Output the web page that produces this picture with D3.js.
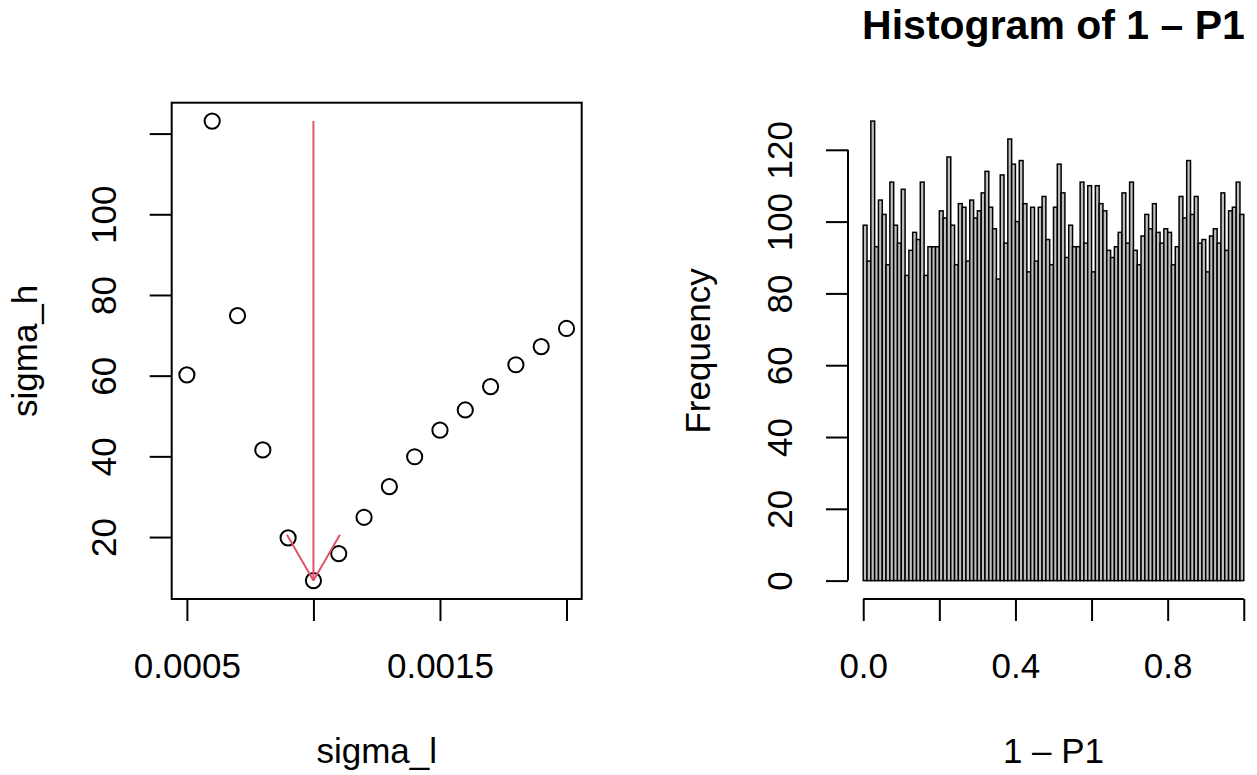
<!DOCTYPE html>
<html>
<head>
<meta charset="utf-8">
<script src="https://cdn.jsdelivr.net/npm/d3@7"></script>
<style>
  html, body { margin: 0; padding: 0; background: #fff; }
  svg { display: block; font-family: "Liberation Sans", Arial, sans-serif; }
</style>
</head>
<body>
<svg id="chart" width="1257" height="775"></svg>
<script>
// left panel: sigma_h against sigma_l
var sigmaL = [0.0005, 0.0006, 0.0007, 0.0008, 0.0009, 0.0010, 0.0011, 0.0012,
              0.0013, 0.0014, 0.0015, 0.0016, 0.0017, 0.0018, 0.0019, 0.0020];
var sigmaH = [60.2, 123.1, 74.9, 41.6, 19.8, 9.2, 15.9, 24.9,
              32.5, 39.9, 46.5, 51.5, 57.3, 62.7, 67.2, 71.7];
var xTicksL = [0.0005, 0.0010, 0.0015, 0.0020];
var xLabelsL = ['0.0005', '', '0.0015', ''];
var yTicksL = [20, 40, 60, 80, 100, 120];
var yLabelsL = ['20', '40', '60', '80', '100', ''];

// right panel: histogram of 1 - P1, 100 bins of width 0.01 on [0, 1]
var histCounts = [
    99, 89, 128, 93, 106, 102, 88, 111, 99, 94,
    109, 85, 92, 97, 95, 111, 85, 93, 93, 93,
    103, 101, 118, 99, 88, 105, 104, 89, 106, 101,
    103, 108, 114, 104, 98, 84, 113, 94, 123, 116,
    100, 117, 105, 86, 104, 89, 104, 107, 95, 88,
    104, 116, 108, 90, 99, 93, 93, 111, 94, 110,
    86, 110, 105, 103, 92, 90, 93, 97, 108, 94,
    111, 92, 88, 96, 102, 98, 105, 97, 94, 98,
    97, 88, 93, 107, 101, 117, 102, 107, 94, 95,
    86, 96, 98, 94, 108, 92, 103, 104, 111, 102
];
var histRange = [0, 1];
var xTicksH = [0, 0.2, 0.4, 0.6, 0.8, 1.0];
var xLabelsH = ['0.0', '', '0.4', '', '0.8', ''];
var yTicksH = [0, 20, 40, 60, 80, 100, 120];

var svg = d3.select('#chart');
var FONT = 35;
var LW = 2;

// R style 4% padding of a range
function pad(ext) {
    var d = (ext[1] - ext[0]) * 0.04;
    return [ext[0] - d, ext[1] + d];
}

function styleAxis(g) {
    g.attr('font-size', FONT).attr('font-family', null);
    g.select('.domain').remove();
    g.selectAll('.tick line').attr('stroke-width', LW);
}

function bottomAxis(g, scale, ticks, labels) {
    g.call(d3.axisBottom(scale).tickValues(ticks).tickSize(22)
            .tickFormat(function(d, i) { return labels[i]; }));
    styleAxis(g);
    g.selectAll('.tick text').attr('y', 79).attr('dy', null);
}

function leftAxis(g, scale, ticks, labels) {
    g.call(d3.axisLeft(scale).tickValues(ticks).tickSize(22)
            .tickFormat(function(d, i) { return labels[i]; }));
    styleAxis(g);
    g.selectAll('.tick text')
        .attr('x', null).attr('dy', null)
        .attr('text-anchor', 'middle')
        .attr('transform', 'translate(-56,0) rotate(-90)');
}

/* ---------- left panel ---------- */
var L = {x0: 171.7, x1: 581.7, y0: 102.7, y1: 599};
var xL = d3.scaleLinear().domain(pad(d3.extent(sigmaL))).range([L.x0, L.x1]);
var yL = d3.scaleLinear().domain(pad(d3.extent(sigmaH))).range([L.y1, L.y0]);

svg.append('rect')
    .attr('x', L.x0).attr('y', L.y0)
    .attr('width', L.x1 - L.x0).attr('height', L.y1 - L.y0)
    .attr('fill', 'none').attr('stroke', '#000').attr('stroke-width', LW);

svg.append('g').attr('transform', 'translate(0,' + L.y1 + ')')
    .call(bottomAxis, xL, xTicksL, xLabelsL);
svg.append('g').attr('transform', 'translate(' + L.x0 + ',0)')
    .call(leftAxis, yL, yTicksL, yLabelsL);

svg.selectAll('.pt')
    .data(sigmaL)
  .enter().append('circle')
    .attr('class', 'pt')
    .attr('cx', function(d) { return xL(d); })
    .attr('cy', function(d, i) { return yL(sigmaH[i]); })
    .attr('r', 7.6)
    .attr('fill', 'none').attr('stroke', '#000').attr('stroke-width', LW);

// arrow from the largest sigma_h down to the minimum
var iMin = d3.minIndex(sigmaH);
var ax = xL(sigmaL[iMin]);
var ayTop = yL(d3.max(sigmaH));
var ayTip = yL(sigmaH[iMin]);
var headLen = 53, headAng = Math.PI / 6;
var arrow = svg.append('g')
    .attr('stroke', '#DF536B').attr('stroke-width', LW).attr('fill', 'none');
arrow.append('line')
    .attr('x1', ax).attr('y1', ayTop).attr('x2', ax).attr('y2', ayTip);
[-1, 1].forEach(function(s) {
    arrow.append('line')
        .attr('x1', ax).attr('y1', ayTip)
        .attr('x2', ax + s * headLen * Math.sin(headAng))
        .attr('y2', ayTip - headLen * Math.cos(headAng));
});

svg.append('text')
    .attr('x', (L.x0 + L.x1) / 2).attr('y', 763)
    .attr('text-anchor', 'middle').attr('font-size', FONT)
    .text('sigma_l');
svg.append('text')
    .attr('transform', 'translate(37,' + (L.y0 + L.y1) / 2 + ') rotate(-90)')
    .attr('text-anchor', 'middle').attr('font-size', FONT)
    .text('sigma_h');

/* ---------- right panel ---------- */
var R = {x0: 848, x1: 1259, y0: 102.7, y1: 599};
var nBins = histCounts.length;
var binW = (histRange[1] - histRange[0]) / nBins;
var xH = d3.scaleLinear().domain(pad(histRange)).range([R.x0, R.x1]);
var yH = d3.scaleLinear().domain(pad([0, d3.max(histCounts)])).range([R.y1, R.y0]);

svg.append('g').selectAll('rect')
    .data(histCounts)
  .enter().append('rect')
    .attr('x', function(d, i) { return xH(histRange[0] + i * binW); })
    .attr('width', function(d, i) {
        return xH(histRange[0] + (i + 1) * binW) - xH(histRange[0] + i * binW);
    })
    .attr('y', function(d) { return yH(d); })
    .attr('height', function(d) { return yH(0) - yH(d); })
    .attr('fill', '#BEBEBE').attr('stroke', '#000').attr('stroke-width', 1.5);

var gx = svg.append('g').attr('transform', 'translate(0,' + R.y1 + ')')
    .call(bottomAxis, xH, xTicksH, xLabelsH);
gx.append('line')
    .attr('x1', xH(xTicksH[0])).attr('x2', xH(xTicksH[xTicksH.length - 1]))
    .attr('stroke', '#000').attr('stroke-width', LW);

var gy = svg.append('g').attr('transform', 'translate(' + R.x0 + ',0)')
    .call(leftAxis, yH, yTicksH, yTicksH.map(String));
gy.append('line')
    .attr('y1', yH(yTicksH[0])).attr('y2', yH(yTicksH[yTicksH.length - 1]))
    .attr('stroke', '#000').attr('stroke-width', LW);

svg.append('text')
    .attr('x', xH(0.5)).attr('y', 763)
    .attr('text-anchor', 'middle').attr('font-size', FONT)
    .text('1 \u2013 P1');
svg.append('text')
    .attr('transform', 'translate(710,' + (R.y0 + R.y1) / 2 + ') rotate(-90)')
    .attr('text-anchor', 'middle').attr('font-size', FONT)
    .text('Frequency');
svg.append('text')
    .attr('x', xH(0.5)).attr('y', 39)
    .attr('text-anchor', 'middle').attr('font-size', 41).attr('font-weight', 'bold')
    .text('Histogram of 1 \u2013 P1');
</script>
</body>
</html>
